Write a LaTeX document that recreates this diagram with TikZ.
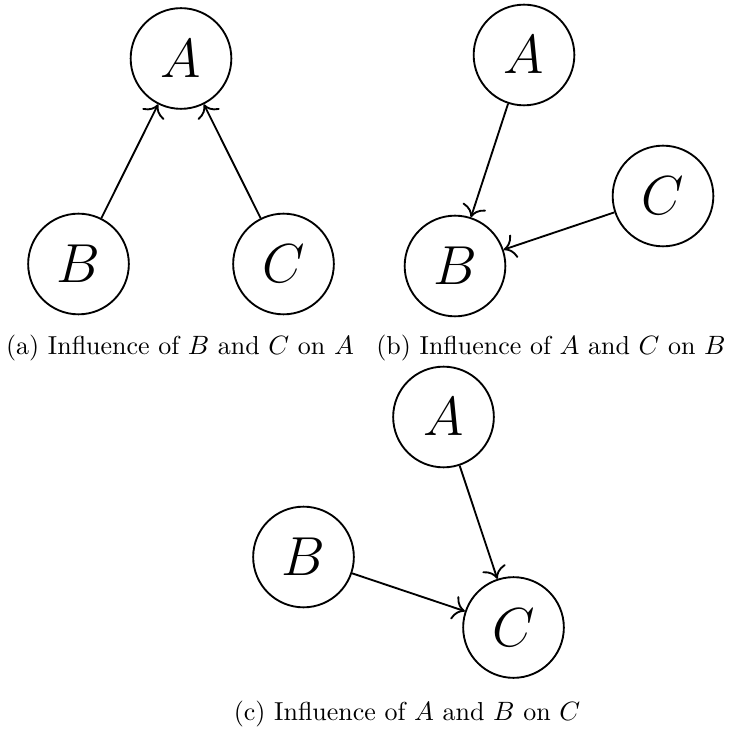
\documentclass[tikz,border=0pt]{standalone}
\usepackage{tikz}
\usetikzlibrary{arrows.meta}
\begin{document}
\begin{tikzpicture}[x=0.3774pt,y=-0.3774pt,
  var/.style={circle,draw,line width=0.7pt,minimum size=38pt,inner sep=0pt,font=\huge},
  edge/.style={-{To[scale=1.4]},line width=0.7pt},
  captext/.style={anchor=base,font=\fontsize{9.8}{12}\selectfont,inner sep=0pt}]
\useasboundingbox (0,0) rectangle (734,729);
% (a)
\node[var] (aA) at (181,58.5) {$A$};
\node[var] (aB) at (78.5,264) {$B$};
\node[var] (aC) at (283.5,264) {$C$};
\draw[edge] (aB) -- (aA);
\draw[edge] (aC) -- (aA);
\node[captext] (capa) at (180,355) {(a) Influence of $B$ and $C$ on $A$};
% (b)
\node[var] (bA) at (524,55) {$A$};
\node[var] (bC) at (663,196) {$C$};
\node[var] (bB) at (455,266) {$B$};
\draw[edge] (bA) -- (bB);
\draw[edge] (bC) -- (bB);
\node[captext] (capb) at (551,355) {(b) Influence of $A$ and $C$ on $B$};
% (c)
\node[var] (cA) at (443.5,417) {$A$};
\node[var] (cB) at (303.5,557) {$B$};
\node[var] (cC) at (513.5,627.5) {$C$};
\draw[edge] (cA) -- (cC);
\draw[edge] (cB) -- (cC);
\node[captext] (capc) at (407,720) {(c) Influence of $A$ and $B$ on $C$};
\end{tikzpicture}
\end{document}
